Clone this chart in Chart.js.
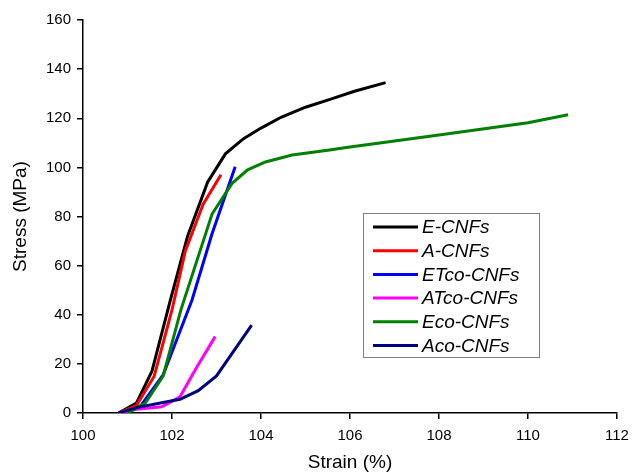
<!DOCTYPE html>
<html>
<head>
<meta charset="utf-8">
<script src="https://cdn.jsdelivr.net/npm/chart.js@4/dist/chart.umd.min.js"></script>
<style>
  html, body { margin: 0; padding: 0; background: #fff; }
  #wrap { width: 632px; height: 474px; }
</style>
</head>
<body>
<div id="wrap"><canvas id="charts" width="632" height="474"></canvas></div>
<script>
// series labels / colours
const seriesNames = ['E-CNFs', 'A-CNFs', 'ETco-CNFs', 'ATco-CNFs', 'Eco-CNFs', 'Aco-CNFs'];
const seriesColors = ['#000000', '#ff0000', '#0000ff', '#ff00ff', '#008000', '#000080'];

// strain (%) / stress (MPa)
const eStrain = [100.8, 101.2, 101.55, 101.95, 102.35, 102.8, 103.2, 103.6, 104.0, 104.45, 105.0, 105.55, 106.1, 106.8];
const eStress = [0, 4, 17, 45, 72, 94, 105.5, 111.6, 116, 120.4, 124.5, 127.7, 131, 134.5];

const aStrain = [100.8, 101.2, 101.6, 102.0, 102.3, 102.7, 103.1];
const aStress = [0, 3, 15, 42, 66, 85, 97];

const etcoStrain = [100.95, 101.3, 101.8, 102.45, 102.9, 103.42];
const etcoStress = [0, 3, 15.5, 46, 73, 100.3];

const atcoStrain = [100.83, 101.2, 101.77, 102.18, 102.52, 102.97];
const atcoStress = [0, 1.5, 2.5, 6.6, 17.5, 31.1];

const ecoStrain = [101.0, 101.4, 101.8, 102.2, 102.9, 103.35, 103.7, 104.1, 104.7, 105.5, 106.0, 108.0, 110.0, 110.9];
const ecoStress = [0, 4, 15, 42, 81, 93.5, 99, 102.2, 105, 107, 108.3, 113.2, 118.2, 121.4];

const acoStrain = [100.8, 101.2, 101.8, 102.18, 102.59, 103.0, 103.79];
const acoStress = [0, 2.2, 4.3, 5.6, 9.1, 15.1, 35.8];

const xTicks = [100, 102, 104, 106, 108, 110, 112];
const yTicks = [0, 20, 40, 60, 80, 100, 120, 140, 160];

const strains = [eStrain, aStrain, etcoStrain, atcoStrain, ecoStrain, acoStrain];
const stresses = [eStress, aStress, etcoStress, atcoStress, ecoStress, acoStress];

const toPoints = (xs, ys) => xs.map((x, i) => ({ x: x, y: ys[i] }));

// legend drawn inside the plot, boxed like the original
const boxLegend = {
  id: 'boxLegend',
  afterDatasetsDraw(chart) {
    const ctx = chart.ctx;
    const left = 363, top = 213, w = 176, h = 144;
    ctx.save();
    ctx.fillStyle = '#fff';
    ctx.fillRect(left, top, w, h);
    ctx.strokeStyle = '#808080';
    ctx.lineWidth = 1;
    ctx.strokeRect(left + 0.5, top + 0.5, w, h);
    ctx.font = 'italic 19px "Liberation Sans", Arial, sans-serif';
    ctx.textBaseline = 'middle';
    chart.data.datasets.forEach((ds, i) => {
      const y = top + 14 + i * 23.7;
      ctx.strokeStyle = ds.borderColor;
      ctx.lineWidth = 3;
      ctx.beginPath();
      ctx.moveTo(left + 10, y);
      ctx.lineTo(left + 55, y);
      ctx.stroke();
      ctx.fillStyle = '#000';
      ctx.fillText(ds.label, left + 59, y + 1);
    });
    ctx.restore();
  }
};

const ctx = document.getElementById('charts').getContext('2d');
new Chart(ctx, {
  type: 'line',
  data: {
    datasets: seriesNames.map((name, i) => ({
      label: name,
      data: toPoints(strains[i], stresses[i]),
      borderColor: seriesColors[i],
      backgroundColor: seriesColors[i],
      borderWidth: 3,
      pointRadius: 0,
      tension: 0,
      fill: false,
      order: seriesNames.length - i,
    })),
  },
  options: {
    responsive: false,
    animation: false,
    layout: { padding: { top: 20, right: 15, left: 0, bottom: 0 } },
    plugins: {
      legend: { display: false },
      tooltip: { enabled: false },
    },
    scales: {
      x: {
        type: 'linear',
        min: 100,
        max: 112,
        afterBuildTicks: (scale) => { scale.ticks = xTicks.map(v => ({ value: v })); },
        afterFit: (scale) => { scale.height = 61; scale.paddingLeft = 0; scale.paddingRight = 0; },
        grid: { drawOnChartArea: false, drawTicks: true, tickLength: 6, color: '#000', lineWidth: 1.5 },
        border: { color: '#000', width: 1.5 },
        ticks: { color: '#000', font: { family: '"Liberation Sans", Arial', size: 15 }, padding: 8, maxRotation: 0 },
        title: { display: true, text: 'Strain (%)', color: '#000', font: { family: '"Liberation Sans", Arial', size: 19 }, padding: { top: 4, bottom: 0 } },
      },
      y: {
        type: 'linear',
        min: 0,
        max: 160,
        afterBuildTicks: (scale) => { scale.ticks = yTicks.map(v => ({ value: v })); },
        afterFit: (scale) => { scale.width = 83; scale.paddingTop = 0; scale.paddingBottom = 0; },
        grid: { drawOnChartArea: false, drawTicks: true, tickLength: 6, color: '#000', lineWidth: 1.5 },
        border: { color: '#000', width: 1.5 },
        ticks: { color: '#000', font: { family: '"Liberation Sans", Arial', size: 15 }, padding: 6 },
        title: { display: true, text: 'Stress (MPa)', color: '#000', font: { family: '"Liberation Sans", Arial', size: 19 }, padding: { top: 9, bottom: 0 } },
      },
    },
  },
  plugins: [boxLegend],
});
</script>
</body>
</html>
